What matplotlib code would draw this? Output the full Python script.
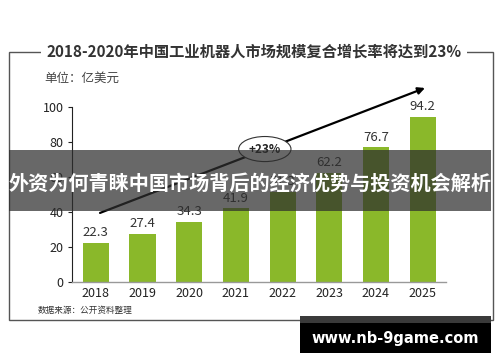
import matplotlib
matplotlib.use("Agg")
import matplotlib.pyplot as plt
from matplotlib.patches import Rectangle

plt.rcParams['font.family'] = ['Noto Sans CJK SC', 'DejaVu Sans']

years = ['2018', '2019', '2020', '2021', '2022', '2023', '2024', '2025']
values = [22.3, 27.4, 34.3, 41.9, 51.3, 62.2, 76.7, 94.2]
labels = ['22.3', '27.4', '34.3', '41.9', '51.3', '62.2', '76.7', '94.2']
yticks = [0, 20, 40, 60, 80, 100]
title = '2018-2020年中国工业机器人市场规模复合增长率将达到23%'
unit = '单位：亿美元'
source = '数据来源：公开资料整理'
growth = '+23%'
banner = '外资为何青睐中国市场背后的经济优势与投资机会解析'
watermark = 'www.nb-9game.com'

W, H = 500, 362
fig = plt.figure(figsize=(W / 100, H / 100), dpi=100)
fig.patch.set_facecolor('white')

def fx(px):
    return px / W

def fy(py):
    return 1 - py / H

ax = fig.add_axes([fx(72), fy(281.7), fx(446) - fx(72), fy(106.7) - fy(281.7)])
x = list(range(len(years)))
ax.bar(x, values, width=0.56, color='#8ab82a', zorder=2)
for xi, v, lab in zip(x, values, labels):
    ax.annotate(lab, (xi, v), xytext=(0, 2.5), textcoords='offset points',
                ha='center', va='bottom', fontsize=9.5, color='#333333')
ax.set_xlim(-0.51, 7.5)
ax.set_ylim(0, 100)
ax.set_yticks(yticks)
ax.set_xticks(x)
ax.set_xticklabels(years)
ax.tick_params(axis='y', length=3, width=0.8, colors='#222222', labelsize=9, pad=3)
ax.tick_params(axis='x', length=0, labelsize=9, pad=4, colors='#222222')
for lab in ax.get_xticklabels() + ax.get_yticklabels():
    lab.set_fontweight('medium')
for sp in ['top', 'right']:
    ax.spines[sp].set_visible(False)
ax.spines['left'].set_color('#222222')
ax.spines['left'].set_linewidth(0.8)
ax.spines['bottom'].set_color('#999999')
ax.spines['bottom'].set_linewidth(1.0)
ax.set_facecolor('none')

# growth arrow
ax.annotate('', xy=(7.05, 110.7), xytext=(0.09, 39.3),
            arrowprops=dict(arrowstyle='-|>', color='black', lw=1.6,
                            mutation_scale=10, shrinkA=0, shrinkB=0),
            annotation_clip=False, zorder=3)
ax.text(3.62, 75.8, growth, ha='center', va='center', fontsize=8.5,
        fontweight='bold', color='#222222', zorder=4,
        bbox=dict(boxstyle='ellipse,pad=0.2', fc='white', ec='#333333', lw=0.8))

# frame
fig.add_artist(Rectangle((fx(9), fy(320)), fx(493) - fx(9), fy(52) - fy(320),
                         transform=fig.transFigure, fill=False,
                         ec='#555555', lw=1.0, zorder=0))
fig.text(fx(254), fy(52), title, ha='center', va='center', fontsize=11,
         fontweight='bold', color='#333333',
         bbox=dict(fc='white', ec='none', pad=4))
fig.text(fx(44), fy(78), unit, ha='left', va='center', fontsize=9, color='#444444')
fig.text(fx(38), fy(310), source, ha='left', va='center', fontsize=6.2, color='#333333')

# banner
fig.add_artist(Rectangle((fx(9), fy(211)), fx(491) - fx(9), fy(150) - fy(211),
                         transform=fig.transFigure, fc='#2e2e2e', alpha=0.72,
                         ec='none', zorder=10))
fig.text(fx(250), fy(183), banner, ha='center', va='center', fontsize=14.5,
         fontweight='bold', color='white', zorder=11)

# watermark
fig.add_artist(Rectangle((fx(300), fy(353)), fx(491) - fx(300), fy(316) - fy(353),
                         transform=fig.transFigure, fc='black', ec='none', zorder=10))
fig.add_artist(Rectangle((fx(300), fy(323)), fx(491) - fx(300), fy(316) - fy(323),
                         transform=fig.transFigure, fc='#3a3a3a', ec='none', zorder=11))
fig.text(fx(395), fy(339), watermark, ha='center', va='center', fontsize=10.5,
         fontweight='bold', color='white', family=['DejaVu Sans'], zorder=12)

fig.savefig('out.png', dpi=100, facecolor='white')
